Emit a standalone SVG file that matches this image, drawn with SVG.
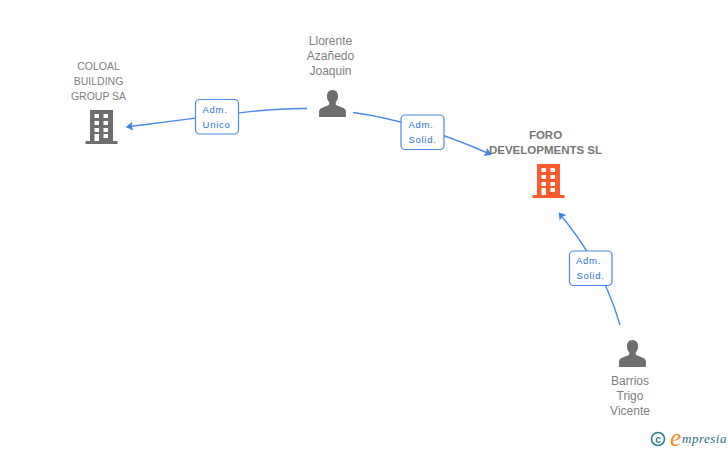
<svg xmlns="http://www.w3.org/2000/svg" width="728" height="450" viewBox="0 0 728 450">
<style>
text{font-family:"Liberation Sans",Arial,sans-serif}
.lb{font-size:10.500px;fill:#808080;text-anchor:middle}
.pn{font-size:12px;fill:#808080;text-anchor:middle}
.lbb{font-size:11.500px;fill:#777;text-anchor:middle;font-weight:bold}
.ed{font-size:9.500px;fill:#2a72dc;text-anchor:middle;letter-spacing:.7px}
.c{fill:none;stroke:#4a8ae8;stroke-width:1.4}
.box{fill:#fff;stroke:#4a8ae8;stroke-width:1.2}
</style>
<defs>
<g id="person"><path d="M0-15c3.600 0 5.600 2.800 5.600 6.200 0 2.600-1 4.600-2.300 6v2.400c1 1.200 3.400 1.800 6.200 2.800 3 1 3.900 2.200 3.900 4.200V12h-26.800V6.600c0-2 .9-3.200 3.900-4.200 2.800-1 5.200-1.600 6.200-2.800v-2.400c-1.300-1.400-2.300-3.400-2.300-6C-5.600-12.200-3.600-15 0-15z" fill="#6e6e6e"/></g>
<g id="bld">
<path fill-rule="evenodd" d="M-11-17h23v31h4.500v3h-32v-3h4.500zM-6.500-13v4h4.500v-4zM2.500-13v4h4.500v-4zM-6.500-6v4h4.500v-4zM2.500-6v4h4.500v-4zM-6.500 1v4h4.500v-4zM2.500 1v4h4.500v-4zM-6.500 7v7h4.500v-7zM2.500 7v4h4.500v-4z"/>
</g>
<marker id="arr" viewBox="0 0 7 10" refX="6.500" refY="5" markerWidth="7" markerHeight="10" markerUnits="userSpaceOnUse" orient="auto"><path d="M0 .5L7 5 0 9.500 1.500 5z" fill="#3f83e6"/></marker>
</defs>
<g id="connectors">
<path class="c" d="M307 108.500C270 108 235 113 126.500 127" marker-end="url(#arr)"/>
<path class="c" d="M353 112.500C395 118 440 132 491 154.500" marker-end="url(#arr)"/>
<path class="c" d="M620 325C610 290 590 250 559 213" marker-end="url(#arr)"/>
</g>
<g id="edge-label-1"><rect class="box" x="195.500" y="99.500" width="43" height="34.500" rx="4"/><text class="ed" x="215" y="113">Adm.</text><text class="ed" x="216.500" y="128">Unico</text></g>
<g id="edge-label-2"><rect class="box" x="401" y="115" width="43" height="34.500" rx="4"/><text class="ed" x="421" y="128">Adm.</text><text class="ed" x="422.500" y="143">Solid.</text></g>
<g id="edge-label-3"><rect class="box" x="569.500" y="251" width="42.500" height="34.500" rx="4"/><text class="ed" x="588.500" y="264">Adm.</text><text class="ed" x="590.500" y="279">Solid.</text></g>
<g id="node-coloal"><text class="lb" x="98.500" y="70">COLOAL</text><text class="lb" x="98.500" y="85">BUILDING</text><text class="lb" x="98.500" y="100">GROUP SA</text><use href="#bld" x="101" y="127" fill="#6e6e6e"/></g>
<g id="node-llorente"><text class="pn" x="330.500" y="45">Llorente</text><text class="pn" x="330.500" y="60">Azañedo</text><text class="pn" x="330.500" y="75">Joaquin</text><use href="#person" x="332.500" y="105"/></g>
<g id="node-foro"><text class="lbb" x="545.500" y="139">FORO</text><text class="lbb" x="545.500" y="154">DEVELOPMENTS SL</text><use href="#bld" x="548" y="181" fill="#ff5a2c"/></g>
<g id="node-barrios"><text class="pn" x="630" y="385">Barrios</text><text class="pn" x="630" y="400">Trigo</text><text class="pn" x="630" y="415">Vicente</text><use href="#person" x="632.500" y="355"/></g>
<g id="logo"><circle cx="658" cy="439" r="6.500" fill="none" stroke="#2e7f8f" stroke-width="1.600"/><text x="658" y="442.500" font-size="10" text-anchor="middle" fill="#2e7f8f" font-weight="bold">c</text><text x="670" y="446" font-size="25" font-style="italic" fill="#f08a1d" style="font-family:'Liberation Serif',serif">e</text><text x="682" y="443" font-size="13" font-style="italic" fill="#1f6f80" style="font-family:'Liberation Serif',serif" letter-spacing=".5">mpresia</text></g>
</svg>
